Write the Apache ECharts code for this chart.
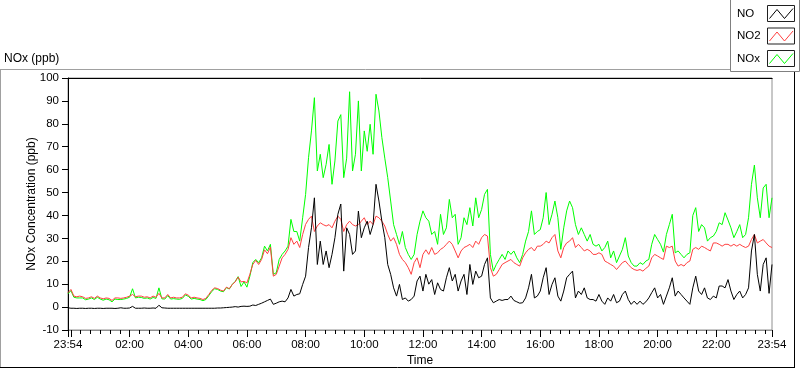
<!DOCTYPE html>
<html><head><meta charset="utf-8">
<script src="https://cdn.jsdelivr.net/npm/echarts@6/dist/echarts.min.js"></script>
<style>html,body{margin:0;padding:0;background:#fff}#c{width:800px;height:369px}</style>
</head><body><div id="c"></div>
<script>
// Time axis: minutes elapsed since 23:54, one sample every 6 minutes (23:54 .. 23:54 next day)
const STEP_MIN = 6;
const START_LABEL = '23:54';
const tickLabelMinutes = [0, 126, 246, 366, 486, 606, 726, 846, 966, 1086, 1206, 1326, 1440];
const majorTickMinutes = [0, 6, 126, 246, 366, 486, 606, 726, 846, 966, 1086, 1206, 1326, 1440];
const yTicks = [-10, 100, 10]; // min, max, interval

const seriesNames = ['NO', 'NO2', 'NOx'];

const no = [
 -0.3,-0.5,-0.5,-0.6,-0.5,-0.5,-0.6,-0.5,-0.5,-0.6, -0.5,-0.5,-0.6,-0.5,-0.5,-0.5,-0.6,-0.5,-0.3,-0.5,
 -0.5,-0.4,0.3,-0.5,-0.5,-0.5,-0.4,-0.5,-0.5,-0.4, -0.5,0.8,-0.3,-0.4,-0.5,-0.5,-0.5,-0.5,-0.5,-0.5,
 -0.5,-0.5,-0.5,-0.5,-0.5,-0.5,-0.5,-0.5,-0.5,-0.5, -0.5,-0.4,-0.4,-0.3,-0.2,-0.1,0.0,0.2,0.0,0.3, 0.4,
 0.3,0.4,0.9,0.7,1.2,1.7,2.3,2.9,3.5,1.2, 1.7,2.3,2.6,2.3,4.0,7.7,4.8,5.5,5.8,9.9,
 13.5,26.0,34.6,47.7,18.6,28.8,18.6,24.5,17.2,23.0, 30.3,40.5,45.0,15.7,34.6,31.7,23.0,24.5,41.9,30.3,
 34.6,37.5,31.7,36.0,53.6,46.3,37.5,30.3,18.6,14.3, 8.4,4.8,9.9,3.3,4.0,2.6,3.3,4.8,11.4,13.5,
 7.0,14.3,10.0,12.0,5.5,10.6,7.7,7.0,12.8,17.2, 11.4,14.3,7.0,11.4,14.3,5.5,18.6,9.9,15.7,12.8,
 13.5,18.6,21.5,4.0,1.9,2.6,3.3,2.9,3.3,3.3, 4.8,2.9,2.3,1.7,1.9,4.0,8.4,14.3,4.0,4.8,
 7.0,12.8,17.2,5.5,9.9,12.8,4.8,2.6,7.0,12.8, 14.3,15.7,4.0,7.0,5.5,8.4,4.0,3.3,3.3,2.6,
 5.5,2.6,1.2,4.0,2.6,5.5,1.9,2.6,5.5,7.0, 3.3,1.2,2.6,1.2,2.6,1.2,2.3,4.0,6.3,8.4,
 4.0,5.5,1.2,4.8,8.4,12.8,4.8,7.0,5.5,4.0, 2.6,1.2,8.4,13.5,7.0,5.5,8.4,4.0,3.3,4.8,
 4.0,9.2,9.2,8.4,12.0,7.0,3.3,5.5,7.0,4.0, 5.5,8.4,24.5,31.7,14.3,7.0,18.6,21.5,6.0,18.6
];

const no2 = [
 6.3,7.7,4.8,4.5,4.8,4.5,3.8,4.0,4.5,3.8, 4.8,4.0,3.6,4.0,3.8,2.9,4.0,4.0,3.8,4.0,
 4.3,4.8,5.5,4.5,4.8,4.8,4.3,4.5,4.0,4.8, 4.3,6.0,4.0,4.0,5.5,4.0,4.3,4.0,4.0,4.3,
 5.8,5.2,4.0,4.3,4.0,3.8,3.3,3.8,5.5,7.3, 8.4,8.1,7.4,7.0,8.7,8.0,9.9,11.0,13.1,11.0, 11.2,
 10.6,14.3,18.6,20.4,18.6,20.8,25.0,23.3,26.2,13.5, 14.3,17.9,21.5,23.0,25.2,30.3,27.4,28.8,26.0,31.7,
 36.1,38.3,39.7,33.0,35.4,36.8,36.0,35.4,36.0,34.6, 37.5,39.7,38.3,33.0,36.0,37.5,36.0,35.4,36.0,37.5,
 39.0,36.0,37.5,36.0,39.7,39.0,37.5,35.4,31.7,28.8, 30.3,27.4,23.0,20.8,19.4,17.2,14.3,19.4,21.5,17.2,
 23.0,25.0,23.0,26.0,23.0,23.7,25.2,26.0,27.4,28.8, 27.4,24.5,21.5,24.5,26.0,26.6,27.4,26.0,28.8,27.4,
 30.3,31.7,31.0,17.2,13.5,14.3,16.4,18.6,19.4,20.1, 20.8,19.4,18.6,17.9,21.5,23.7,25.2,26.0,24.5,26.6,
 26.6,27.4,28.8,28.0,30.3,31.7,24.5,21.5,26.0,28.0, 28.8,30.3,26.0,27.4,26.0,24.5,25.2,24.5,23.0,23.0,
 23.7,23.0,20.1,19.4,18.6,17.9,16.4,17.9,19.4,20.1, 18.6,17.2,16.4,16.0,16.4,15.7,16.9,17.9,21.5,23.0,
 22.3,21.5,20.8,26.6,26.0,26.6,20.1,17.9,18.6,17.9, 19.4,20.1,25.2,26.0,25.2,26.6,26.0,25.2,24.5,28.0,
 28.0,27.4,26.6,27.4,27.4,26.6,27.4,26.6,27.4,26.6, 26.0,26.6,29.5,31.7,28.0,28.8,29.5,28.0,26.6,26.0
];

const nox = [
 5.8,7.2,4.3,4.0,4.0,4.0,3.2,3.5,4.0,3.3, 4.3,3.5,3.0,3.5,3.2,2.3,3.5,3.3,3.3,3.5,
 3.8,4.3,8.0,4.0,4.3,4.2,3.8,4.0,3.5,4.2, 3.8,8.4,3.6,3.5,5.0,3.5,3.7,3.5,3.4,3.8,
 5.3,4.7,3.5,3.8,3.5,3.3,2.8,3.3,5.0,6.8, 8.0,7.7,7.0,6.7,8.5,7.9,9.9,11.2,13.3,9.0, 11.0,
 8.7,13.5,19.4,20.8,19.4,21.5,26.6,24.5,27.4,14.3, 15.0,20.8,23.0,24.5,26.6,38.3,33.0,33.0,28.8,39.0,
 49.2,65.2,76.9,91.4,59.4,66.7,56.5,62.3,71.0,53.6, 63.8,81.2,84.0,56.5,65.0,94.0,59.4,66.7,90.0,59.4,
 76.9,68.0,79.8,66.7,92.9,85.6,74.0,65.0,56.5,46.3, 36.0,31.7,27.4,33.0,26.0,23.0,20.8,23.0,31.7,37.5,
 42.0,39.0,37.5,31.7,33.0,27.4,40.5,31.7,34.6,47.0, 39.0,40.5,27.4,30.3,39.0,36.0,43.4,35.4,47.7,39.0,
 42.6,49.2,51.4,23.0,15.7,18.6,20.8,23.0,20.8,24.5, 23.0,24.5,21.5,19.4,23.0,28.8,33.0,42.0,31.7,33.0,
 33.8,39.0,50.0,36.0,40.5,46.3,39.0,25.2,34.6,42.0, 46.3,43.4,36.0,31.7,34.6,31.7,28.8,31.7,27.4,26.6,
 27.4,24.5,26.0,28.8,21.5,24.5,19.4,22.3,25.2,30.3, 22.3,19.4,17.9,17.9,19.4,18.6,20.1,20.8,27.4,31.7,
 29.5,27.4,24.0,31.7,36.0,40.5,23.7,24.5,23.0,21.5, 23.0,23.7,40.0,43.4,33.0,36.0,34.6,28.8,30.3,31.0,
 33.0,36.8,36.0,41.2,38.0,34.6,30.3,33.0,36.0,30.3, 31.7,39.0,53.6,62.0,47.7,39.0,52.0,53.6,39.0,47.7
];

const FONT = 'Liberation Sans, Arial, sans-serif';
const COLORS = {NO: '#000000', NO2: '#ff4040', NOx: '#00ff00'};

function clock(m) {
  const [sh, sm] = START_LABEL.split(':').map(Number);
  const t = (m + sh * 60 + sm) % 1440;
  const h = Math.floor(t / 60), mm = Math.round(t % 60);
  return String(h).padStart(2, '0') + ':' + String(mm).padStart(2, '0');
}
const minorTickMinutes = [];
for (let m = 6; m < 1440; m += 20) minorTickMinutes.push(m);

function toPairs(arr) { return arr.map((v, i) => [i * STEP_MIN, v]); }
const dataBy = {NO: no, NO2: no2, NOx: nox};

const chart = echarts.init(document.getElementById('c'), null, {renderer: 'canvas', width: 800, height: 369});

// legend drawn as a LabVIEW-style plot legend box
const legendGraphics = [];
legendGraphics.push({type: 'rect', shape: {x: 730.5, y: -1, width: 69, height: 72.5}, style: {fill: '#fff', stroke: '#808080', lineWidth: 1}, z: 50});
seriesNames.forEach((n, k) => {
  const y0 = 5 + k * 22.5;
  legendGraphics.push({type: 'text', x: 737, y: y0 + 8.5, style: {text: n, font: '11.5px ' + FONT, fill: '#000', textVerticalAlign: 'middle'}, z: 51});
  legendGraphics.push({type: 'rect', shape: {x: 767.5, y: y0 + 0.5, width: 27, height: 16}, style: {fill: '#fff', stroke: '#202020', lineWidth: 1}, z: 51});
  legendGraphics.push({type: 'polyline', shape: {points: [[769.5, y0 + 13.5], [777, y0 + 4.5], [784.5, y0 + 13.5], [793, y0 + 3.5]]}, style: {stroke: COLORS[n], lineWidth: 1, fill: null}, z: 52});
});

const frame = [
  {type: 'line', shape: {x1: 0, y1: 69.5, x2: 731, y2: 69.5}, style: {stroke: '#a0a0a0', lineWidth: 1}, z: 40},
  {type: 'line', shape: {x1: 0.5, y1: 69.5, x2: 0.5, y2: 368}, style: {stroke: '#a0a0a0', lineWidth: 1}, z: 40},
  {type: 'line', shape: {x1: 0, y1: 367.5, x2: 795, y2: 367.5}, style: {stroke: '#000', lineWidth: 1}, z: 40},
  {type: 'line', shape: {x1: 794.5, y1: 71.5, x2: 794.5, y2: 368}, style: {stroke: '#000', lineWidth: 1}, z: 40},
  {type: 'line', shape: {x1: 68, y1: 78.5, x2: 772.5, y2: 78.5}, style: {stroke: '#000', lineWidth: 1}, z: 40},
  {type: 'text', x: 4, y: 59, style: {text: 'NOx (ppb)', font: '12px ' + FONT, fill: '#000', textVerticalAlign: 'middle'}, z: 40}
];

const option = {
  animation: false,
  backgroundColor: '#ffffff',
  textStyle: {fontFamily: FONT},
  grid: {left: 68, top: 78, width: 704, height: 252, show: true, borderColor: '#909090', borderWidth: 1, backgroundColor: '#fff', containLabel: false, outerBoundsMode: 'none'},
  xAxis: [{
    type: 'value', min: 0, max: 1440,
    name: 'Time', nameLocation: 'middle', nameGap: 25, nameMoveOverlap: false,
    nameTextStyle: {color: '#000', fontSize: 12, fontFamily: FONT},
    axisLine: {show: true, onZero: false, lineStyle: {color: '#909090', width: 1}},
    axisTick: {show: true, length: 7, customValues: majorTickMinutes, lineStyle: {color: '#000'}},
    axisLabel: {customValues: tickLabelMinutes, formatter: v => clock(v), margin: 9, color: '#000', fontSize: 11.5, fontFamily: FONT, showMinLabel: true, showMaxLabel: true, hideOverlap: false},
    splitLine: {show: false}
  }, {
    type: 'value', min: 0, max: 1440, gridIndex: 0, position: 'bottom',
    axisLine: {show: false, onZero: false},
    axisTick: {show: true, length: 4, customValues: minorTickMinutes, lineStyle: {color: '#000'}},
    axisLabel: {show: false},
    splitLine: {show: false}
  }],
  yAxis: {
    type: 'value', min: yTicks[0], max: yTicks[1], interval: yTicks[2],
    name: 'NOx Concentration (ppb)', nameLocation: 'middle', nameGap: 30, nameRotate: 90, nameMoveOverlap: false,
    nameTextStyle: {color: '#000', fontSize: 12, fontFamily: FONT},
    axisLine: {show: true, onZero: false, lineStyle: {color: '#000', width: 1}},
    axisTick: {show: true, length: 6, lineStyle: {color: '#000'}},
    axisLabel: {margin: 9, color: '#000', fontSize: 11.5, fontFamily: FONT},
    splitLine: {show: false}
  },
  legend: {show: false, data: seriesNames},
  graphic: frame.concat(legendGraphics),
  series: ['NOx', 'NO2', 'NO'].map(n => ({
    name: n, type: 'line', xAxisIndex: 0, data: toPairs(dataBy[n]),
    symbol: 'none', showSymbol: false, smooth: false, silent: true,
    lineStyle: {color: COLORS[n], width: 1}, itemStyle: {color: COLORS[n]}
  }))
};
chart.setOption(option);
</script></body></html>
